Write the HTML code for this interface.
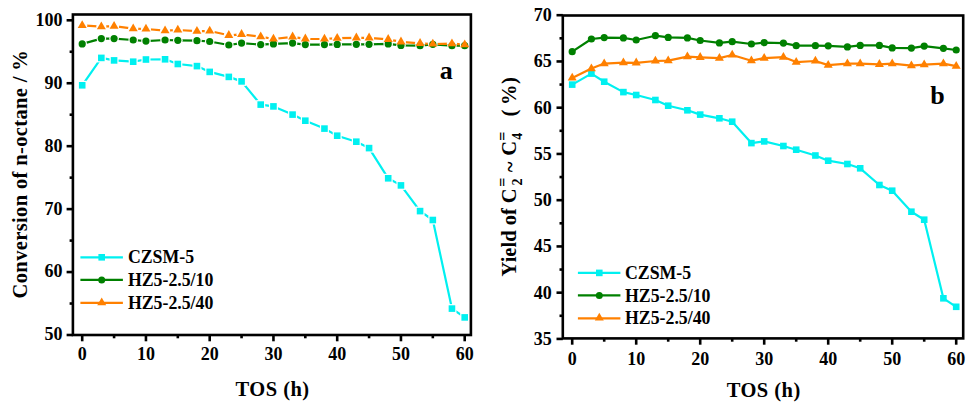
<!DOCTYPE html>
<html><head><meta charset="utf-8"><style>
html,body{margin:0;padding:0;background:#fff;}
body{width:973px;height:413px;overflow:hidden;}
svg{display:block;}
text{font-family:"Liberation Serif",serif;font-weight:bold;fill:#000;}
.tk{font-size:18px;}
.lg{font-size:17.8px;}
.ax{font-size:20.5px;}
.pl{font-size:26px;}
.sb{font-size:14px;}
.sp{font-size:16px;}
</style></head><body>
<svg width="973" height="413" viewBox="0 0 973 413">
<rect width="973" height="413" fill="#fff"/>
<rect x="72.9" y="14.5" width="398" height="320.5" fill="none" stroke="#000" stroke-width="2.6"/>
<line x1="82.2" y1="335" x2="82.2" y2="341.3" stroke="#000" stroke-width="2.6"/>
<line x1="145.95" y1="335" x2="145.95" y2="341.3" stroke="#000" stroke-width="2.6"/>
<line x1="209.7" y1="335" x2="209.7" y2="341.3" stroke="#000" stroke-width="2.6"/>
<line x1="273.45" y1="335" x2="273.45" y2="341.3" stroke="#000" stroke-width="2.6"/>
<line x1="337.2" y1="335" x2="337.2" y2="341.3" stroke="#000" stroke-width="2.6"/>
<line x1="400.95" y1="335" x2="400.95" y2="341.3" stroke="#000" stroke-width="2.6"/>
<line x1="464.7" y1="335" x2="464.7" y2="341.3" stroke="#000" stroke-width="2.6"/>
<line x1="114.08" y1="335" x2="114.08" y2="338.3" stroke="#000" stroke-width="2.6"/>
<line x1="177.82" y1="335" x2="177.82" y2="338.3" stroke="#000" stroke-width="2.6"/>
<line x1="241.57" y1="335" x2="241.57" y2="338.3" stroke="#000" stroke-width="2.6"/>
<line x1="305.32" y1="335" x2="305.32" y2="338.3" stroke="#000" stroke-width="2.6"/>
<line x1="369.07" y1="335" x2="369.07" y2="338.3" stroke="#000" stroke-width="2.6"/>
<line x1="432.82" y1="335" x2="432.82" y2="338.3" stroke="#000" stroke-width="2.6"/>
<line x1="72.9" y1="335" x2="66.6" y2="335" stroke="#000" stroke-width="2.6"/>
<line x1="72.9" y1="272.06" x2="66.6" y2="272.06" stroke="#000" stroke-width="2.6"/>
<line x1="72.9" y1="209.12" x2="66.6" y2="209.12" stroke="#000" stroke-width="2.6"/>
<line x1="72.9" y1="146.18" x2="66.6" y2="146.18" stroke="#000" stroke-width="2.6"/>
<line x1="72.9" y1="83.24" x2="66.6" y2="83.24" stroke="#000" stroke-width="2.6"/>
<line x1="72.9" y1="20.3" x2="66.6" y2="20.3" stroke="#000" stroke-width="2.6"/>
<line x1="72.9" y1="303.53" x2="69.6" y2="303.53" stroke="#000" stroke-width="2.6"/>
<line x1="72.9" y1="240.59" x2="69.6" y2="240.59" stroke="#000" stroke-width="2.6"/>
<line x1="72.9" y1="177.65" x2="69.6" y2="177.65" stroke="#000" stroke-width="2.6"/>
<line x1="72.9" y1="114.71" x2="69.6" y2="114.71" stroke="#000" stroke-width="2.6"/>
<line x1="72.9" y1="51.77" x2="69.6" y2="51.77" stroke="#000" stroke-width="2.6"/>
<rect x="562.8" y="15.5" width="400.4" height="322.9" fill="none" stroke="#000" stroke-width="2.6"/>
<line x1="572.2" y1="338.4" x2="572.2" y2="344.7" stroke="#000" stroke-width="2.6"/>
<line x1="636.2" y1="338.4" x2="636.2" y2="344.7" stroke="#000" stroke-width="2.6"/>
<line x1="700.2" y1="338.4" x2="700.2" y2="344.7" stroke="#000" stroke-width="2.6"/>
<line x1="764.2" y1="338.4" x2="764.2" y2="344.7" stroke="#000" stroke-width="2.6"/>
<line x1="828.2" y1="338.4" x2="828.2" y2="344.7" stroke="#000" stroke-width="2.6"/>
<line x1="892.2" y1="338.4" x2="892.2" y2="344.7" stroke="#000" stroke-width="2.6"/>
<line x1="956.2" y1="338.4" x2="956.2" y2="344.7" stroke="#000" stroke-width="2.6"/>
<line x1="604.2" y1="338.4" x2="604.2" y2="341.7" stroke="#000" stroke-width="2.6"/>
<line x1="668.2" y1="338.4" x2="668.2" y2="341.7" stroke="#000" stroke-width="2.6"/>
<line x1="732.2" y1="338.4" x2="732.2" y2="341.7" stroke="#000" stroke-width="2.6"/>
<line x1="796.2" y1="338.4" x2="796.2" y2="341.7" stroke="#000" stroke-width="2.6"/>
<line x1="860.2" y1="338.4" x2="860.2" y2="341.7" stroke="#000" stroke-width="2.6"/>
<line x1="924.2" y1="338.4" x2="924.2" y2="341.7" stroke="#000" stroke-width="2.6"/>
<line x1="562.8" y1="338.92" x2="556.5" y2="338.92" stroke="#000" stroke-width="2.6"/>
<line x1="562.8" y1="292.67" x2="556.5" y2="292.67" stroke="#000" stroke-width="2.6"/>
<line x1="562.8" y1="246.43" x2="556.5" y2="246.43" stroke="#000" stroke-width="2.6"/>
<line x1="562.8" y1="200.18" x2="556.5" y2="200.18" stroke="#000" stroke-width="2.6"/>
<line x1="562.8" y1="153.94" x2="556.5" y2="153.94" stroke="#000" stroke-width="2.6"/>
<line x1="562.8" y1="107.69" x2="556.5" y2="107.69" stroke="#000" stroke-width="2.6"/>
<line x1="562.8" y1="61.45" x2="556.5" y2="61.45" stroke="#000" stroke-width="2.6"/>
<line x1="562.8" y1="15.2" x2="556.5" y2="15.2" stroke="#000" stroke-width="2.6"/>
<line x1="562.8" y1="315.79" x2="559.5" y2="315.79" stroke="#000" stroke-width="2.6"/>
<line x1="562.8" y1="269.55" x2="559.5" y2="269.55" stroke="#000" stroke-width="2.6"/>
<line x1="562.8" y1="223.3" x2="559.5" y2="223.3" stroke="#000" stroke-width="2.6"/>
<line x1="562.8" y1="177.06" x2="559.5" y2="177.06" stroke="#000" stroke-width="2.6"/>
<line x1="562.8" y1="130.81" x2="559.5" y2="130.81" stroke="#000" stroke-width="2.6"/>
<line x1="562.8" y1="84.57" x2="559.5" y2="84.57" stroke="#000" stroke-width="2.6"/>
<line x1="562.8" y1="38.32" x2="559.5" y2="38.32" stroke="#000" stroke-width="2.6"/>
<text x="82.2" y="360.3" class="tk" text-anchor="middle">0</text>
<text x="572.2" y="364.5" class="tk" text-anchor="middle">0</text>
<text x="145.95" y="360.3" class="tk" text-anchor="middle">10</text>
<text x="636.2" y="364.5" class="tk" text-anchor="middle">10</text>
<text x="209.7" y="360.3" class="tk" text-anchor="middle">20</text>
<text x="700.2" y="364.5" class="tk" text-anchor="middle">20</text>
<text x="273.45" y="360.3" class="tk" text-anchor="middle">30</text>
<text x="764.2" y="364.5" class="tk" text-anchor="middle">30</text>
<text x="337.2" y="360.3" class="tk" text-anchor="middle">40</text>
<text x="828.2" y="364.5" class="tk" text-anchor="middle">40</text>
<text x="400.95" y="360.3" class="tk" text-anchor="middle">50</text>
<text x="892.2" y="364.5" class="tk" text-anchor="middle">50</text>
<text x="464.7" y="360.3" class="tk" text-anchor="middle">60</text>
<text x="956.2" y="364.5" class="tk" text-anchor="middle">60</text>
<text x="62.6" y="340.4" class="tk" text-anchor="end">50</text>
<text x="62.6" y="277.46" class="tk" text-anchor="end">60</text>
<text x="62.6" y="214.52" class="tk" text-anchor="end">70</text>
<text x="62.6" y="151.58" class="tk" text-anchor="end">80</text>
<text x="62.6" y="88.64" class="tk" text-anchor="end">90</text>
<text x="62.6" y="25.7" class="tk" text-anchor="end">100</text>
<text x="551.7" y="344.92" class="tk" text-anchor="end">35</text>
<text x="551.7" y="298.67" class="tk" text-anchor="end">40</text>
<text x="551.7" y="252.43" class="tk" text-anchor="end">45</text>
<text x="551.7" y="206.18" class="tk" text-anchor="end">50</text>
<text x="551.7" y="159.94" class="tk" text-anchor="end">55</text>
<text x="551.7" y="113.69" class="tk" text-anchor="end">60</text>
<text x="551.7" y="67.45" class="tk" text-anchor="end">65</text>
<text x="551.7" y="21.2" class="tk" text-anchor="end">70</text>
<mask id="mac" maskUnits="userSpaceOnUse" x="0" y="0" width="973" height="413"><rect width="973" height="413" fill="#fff"/><rect x="77.7" y="80.8" width="9" height="9" fill="#000"/><rect x="96.83" y="53.4" width="9" height="9" fill="#000"/><rect x="109.58" y="55.9" width="9" height="9" fill="#000"/><rect x="128.7" y="57.2" width="9" height="9" fill="#000"/><rect x="141.45" y="55" width="9" height="9" fill="#000"/><rect x="160.57" y="54.8" width="9" height="9" fill="#000"/><rect x="173.32" y="59.5" width="9" height="9" fill="#000"/><rect x="192.45" y="61.6" width="9" height="9" fill="#000"/><rect x="205.2" y="67.4" width="9" height="9" fill="#000"/><rect x="224.32" y="72.4" width="9" height="9" fill="#000"/><rect x="237.07" y="76.9" width="9" height="9" fill="#000"/><rect x="256.2" y="100.1" width="9" height="9" fill="#000"/><rect x="268.95" y="101.9" width="9" height="9" fill="#000"/><rect x="288.07" y="110.1" width="9" height="9" fill="#000"/><rect x="300.82" y="116.2" width="9" height="9" fill="#000"/><rect x="319.95" y="124.1" width="9" height="9" fill="#000"/><rect x="332.7" y="131.2" width="9" height="9" fill="#000"/><rect x="351.82" y="137.2" width="9" height="9" fill="#000"/><rect x="364.57" y="143.6" width="9" height="9" fill="#000"/><rect x="383.7" y="173.8" width="9" height="9" fill="#000"/><rect x="396.45" y="180.9" width="9" height="9" fill="#000"/><rect x="415.57" y="206.6" width="9" height="9" fill="#000"/><rect x="428.32" y="215.5" width="9" height="9" fill="#000"/><rect x="447.45" y="304.1" width="9" height="9" fill="#000"/><rect x="460.2" y="312.9" width="9" height="9" fill="#000"/></mask>
<polyline points="82.2,85.3 101.33,57.9 114.08,60.4 133.2,61.7 145.95,59.5 165.07,59.3 177.82,64 196.95,66.1 209.7,71.9 228.82,76.9 241.57,81.4 260.7,104.6 273.45,106.4 292.57,114.6 305.32,120.7 324.45,128.6 337.2,135.7 356.32,141.7 369.07,148.1 388.2,178.3 400.95,185.4 420.07,211.1 432.82,220 451.95,308.6 464.7,317.4" fill="none" stroke="#00F0F0" stroke-width="2.2" stroke-linejoin="round" mask="url(#mac)"/>
<rect x="78.9" y="82" width="6.6" height="6.6" fill="#00F0F0"/>
<rect x="98.03" y="54.6" width="6.6" height="6.6" fill="#00F0F0"/>
<rect x="110.78" y="57.1" width="6.6" height="6.6" fill="#00F0F0"/>
<rect x="129.9" y="58.4" width="6.6" height="6.6" fill="#00F0F0"/>
<rect x="142.65" y="56.2" width="6.6" height="6.6" fill="#00F0F0"/>
<rect x="161.77" y="56" width="6.6" height="6.6" fill="#00F0F0"/>
<rect x="174.52" y="60.7" width="6.6" height="6.6" fill="#00F0F0"/>
<rect x="193.65" y="62.8" width="6.6" height="6.6" fill="#00F0F0"/>
<rect x="206.4" y="68.6" width="6.6" height="6.6" fill="#00F0F0"/>
<rect x="225.52" y="73.6" width="6.6" height="6.6" fill="#00F0F0"/>
<rect x="238.27" y="78.1" width="6.6" height="6.6" fill="#00F0F0"/>
<rect x="257.4" y="101.3" width="6.6" height="6.6" fill="#00F0F0"/>
<rect x="270.15" y="103.1" width="6.6" height="6.6" fill="#00F0F0"/>
<rect x="289.27" y="111.3" width="6.6" height="6.6" fill="#00F0F0"/>
<rect x="302.02" y="117.4" width="6.6" height="6.6" fill="#00F0F0"/>
<rect x="321.15" y="125.3" width="6.6" height="6.6" fill="#00F0F0"/>
<rect x="333.9" y="132.4" width="6.6" height="6.6" fill="#00F0F0"/>
<rect x="353.02" y="138.4" width="6.6" height="6.6" fill="#00F0F0"/>
<rect x="365.77" y="144.8" width="6.6" height="6.6" fill="#00F0F0"/>
<rect x="384.9" y="175" width="6.6" height="6.6" fill="#00F0F0"/>
<rect x="397.65" y="182.1" width="6.6" height="6.6" fill="#00F0F0"/>
<rect x="416.77" y="207.8" width="6.6" height="6.6" fill="#00F0F0"/>
<rect x="429.52" y="216.7" width="6.6" height="6.6" fill="#00F0F0"/>
<rect x="448.65" y="305.3" width="6.6" height="6.6" fill="#00F0F0"/>
<rect x="461.4" y="314.1" width="6.6" height="6.6" fill="#00F0F0"/>
<mask id="mag" maskUnits="userSpaceOnUse" x="0" y="0" width="973" height="413"><rect width="973" height="413" fill="#fff"/><circle cx="82.2" cy="43.9" r="4.8" fill="#000"/><circle cx="101.33" cy="38.6" r="4.8" fill="#000"/><circle cx="114.08" cy="38.6" r="4.8" fill="#000"/><circle cx="133.2" cy="40" r="4.8" fill="#000"/><circle cx="145.95" cy="41.1" r="4.8" fill="#000"/><circle cx="165.07" cy="40" r="4.8" fill="#000"/><circle cx="177.82" cy="40.3" r="4.8" fill="#000"/><circle cx="196.95" cy="40.7" r="4.8" fill="#000"/><circle cx="209.7" cy="41.5" r="4.8" fill="#000"/><circle cx="228.82" cy="45" r="4.8" fill="#000"/><circle cx="241.57" cy="43.1" r="4.8" fill="#000"/><circle cx="260.7" cy="44.6" r="4.8" fill="#000"/><circle cx="273.45" cy="43.9" r="4.8" fill="#000"/><circle cx="292.57" cy="43.1" r="4.8" fill="#000"/><circle cx="305.32" cy="44.6" r="4.8" fill="#000"/><circle cx="324.45" cy="44.6" r="4.8" fill="#000"/><circle cx="337.2" cy="44.4" r="4.8" fill="#000"/><circle cx="356.32" cy="44.3" r="4.8" fill="#000"/><circle cx="369.07" cy="44.3" r="4.8" fill="#000"/><circle cx="388.2" cy="43.9" r="4.8" fill="#000"/><circle cx="400.95" cy="45.4" r="4.8" fill="#000"/><circle cx="420.07" cy="45.7" r="4.8" fill="#000"/><circle cx="432.82" cy="44.3" r="4.8" fill="#000"/><circle cx="451.95" cy="45.7" r="4.8" fill="#000"/><circle cx="464.7" cy="45.7" r="4.8" fill="#000"/></mask>
<polyline points="82.2,43.9 101.33,38.6 114.08,38.6 133.2,40 145.95,41.1 165.07,40 177.82,40.3 196.95,40.7 209.7,41.5 228.82,45 241.57,43.1 260.7,44.6 273.45,43.9 292.57,43.1 305.32,44.6 324.45,44.6 337.2,44.4 356.32,44.3 369.07,44.3 388.2,43.9 400.95,45.4 420.07,45.7 432.82,44.3 451.95,45.7 464.7,45.7" fill="none" stroke="#008000" stroke-width="2.2" stroke-linejoin="round" mask="url(#mag)"/>
<circle cx="82.2" cy="43.9" r="3.6" fill="#008000"/>
<circle cx="101.33" cy="38.6" r="3.6" fill="#008000"/>
<circle cx="114.08" cy="38.6" r="3.6" fill="#008000"/>
<circle cx="133.2" cy="40" r="3.6" fill="#008000"/>
<circle cx="145.95" cy="41.1" r="3.6" fill="#008000"/>
<circle cx="165.07" cy="40" r="3.6" fill="#008000"/>
<circle cx="177.82" cy="40.3" r="3.6" fill="#008000"/>
<circle cx="196.95" cy="40.7" r="3.6" fill="#008000"/>
<circle cx="209.7" cy="41.5" r="3.6" fill="#008000"/>
<circle cx="228.82" cy="45" r="3.6" fill="#008000"/>
<circle cx="241.57" cy="43.1" r="3.6" fill="#008000"/>
<circle cx="260.7" cy="44.6" r="3.6" fill="#008000"/>
<circle cx="273.45" cy="43.9" r="3.6" fill="#008000"/>
<circle cx="292.57" cy="43.1" r="3.6" fill="#008000"/>
<circle cx="305.32" cy="44.6" r="3.6" fill="#008000"/>
<circle cx="324.45" cy="44.6" r="3.6" fill="#008000"/>
<circle cx="337.2" cy="44.4" r="3.6" fill="#008000"/>
<circle cx="356.32" cy="44.3" r="3.6" fill="#008000"/>
<circle cx="369.07" cy="44.3" r="3.6" fill="#008000"/>
<circle cx="388.2" cy="43.9" r="3.6" fill="#008000"/>
<circle cx="400.95" cy="45.4" r="3.6" fill="#008000"/>
<circle cx="420.07" cy="45.7" r="3.6" fill="#008000"/>
<circle cx="432.82" cy="44.3" r="3.6" fill="#008000"/>
<circle cx="451.95" cy="45.7" r="3.6" fill="#008000"/>
<circle cx="464.7" cy="45.7" r="3.6" fill="#008000"/>
<mask id="mao" maskUnits="userSpaceOnUse" x="0" y="0" width="973" height="413"><rect width="973" height="413" fill="#fff"/><circle cx="82.2" cy="25.4" r="5.1" fill="#000"/><circle cx="101.33" cy="26.7" r="5.1" fill="#000"/><circle cx="114.08" cy="26.1" r="5.1" fill="#000"/><circle cx="133.2" cy="28.6" r="5.1" fill="#000"/><circle cx="145.95" cy="29" r="5.1" fill="#000"/><circle cx="165.07" cy="30.7" r="5.1" fill="#000"/><circle cx="177.82" cy="30" r="5.1" fill="#000"/><circle cx="196.95" cy="31.1" r="5.1" fill="#000"/><circle cx="209.7" cy="31" r="5.1" fill="#000"/><circle cx="228.82" cy="35.3" r="5.1" fill="#000"/><circle cx="241.57" cy="34.3" r="5.1" fill="#000"/><circle cx="260.7" cy="36.7" r="5.1" fill="#000"/><circle cx="273.45" cy="39" r="5.1" fill="#000"/><circle cx="292.57" cy="36.8" r="5.1" fill="#000"/><circle cx="305.32" cy="38.8" r="5.1" fill="#000"/><circle cx="324.45" cy="39" r="5.1" fill="#000"/><circle cx="337.2" cy="38.2" r="5.1" fill="#000"/><circle cx="356.32" cy="37.8" r="5.1" fill="#000"/><circle cx="369.07" cy="37.8" r="5.1" fill="#000"/><circle cx="388.2" cy="39.3" r="5.1" fill="#000"/><circle cx="400.95" cy="41.8" r="5.1" fill="#000"/><circle cx="420.07" cy="43.3" r="5.1" fill="#000"/><circle cx="432.82" cy="44" r="5.1" fill="#000"/><circle cx="451.95" cy="43.6" r="5.1" fill="#000"/><circle cx="464.7" cy="44.6" r="5.1" fill="#000"/></mask>
<polyline points="82.2,25.4 101.33,26.7 114.08,26.1 133.2,28.6 145.95,29 165.07,30.7 177.82,30 196.95,31.1 209.7,31 228.82,35.3 241.57,34.3 260.7,36.7 273.45,39 292.57,36.8 305.32,38.8 324.45,39 337.2,38.2 356.32,37.8 369.07,37.8 388.2,39.3 400.95,41.8 420.07,43.3 432.82,44 451.95,43.6 464.7,44.6" fill="none" stroke="#FF8000" stroke-width="2.2" stroke-linejoin="round" mask="url(#mao)"/>
<path d="M82.2 20.2L86.7 28L77.7 28Z" fill="#FF8000"/>
<path d="M101.33 21.5L105.83 29.3L96.82 29.3Z" fill="#FF8000"/>
<path d="M114.08 20.9L118.58 28.7L109.57 28.7Z" fill="#FF8000"/>
<path d="M133.2 23.4L137.7 31.2L128.7 31.2Z" fill="#FF8000"/>
<path d="M145.95 23.8L150.45 31.6L141.45 31.6Z" fill="#FF8000"/>
<path d="M165.07 25.5L169.58 33.3L160.57 33.3Z" fill="#FF8000"/>
<path d="M177.82 24.8L182.33 32.6L173.32 32.6Z" fill="#FF8000"/>
<path d="M196.95 25.9L201.45 33.7L192.45 33.7Z" fill="#FF8000"/>
<path d="M209.7 25.8L214.2 33.6L205.2 33.6Z" fill="#FF8000"/>
<path d="M228.82 30.1L233.33 37.9L224.32 37.9Z" fill="#FF8000"/>
<path d="M241.57 29.1L246.08 36.9L237.07 36.9Z" fill="#FF8000"/>
<path d="M260.7 31.5L265.2 39.3L256.2 39.3Z" fill="#FF8000"/>
<path d="M273.45 33.8L277.95 41.6L268.95 41.6Z" fill="#FF8000"/>
<path d="M292.57 31.6L297.08 39.4L288.07 39.4Z" fill="#FF8000"/>
<path d="M305.32 33.6L309.83 41.4L300.82 41.4Z" fill="#FF8000"/>
<path d="M324.45 33.8L328.95 41.6L319.95 41.6Z" fill="#FF8000"/>
<path d="M337.2 33L341.7 40.8L332.7 40.8Z" fill="#FF8000"/>
<path d="M356.32 32.6L360.83 40.4L351.82 40.4Z" fill="#FF8000"/>
<path d="M369.07 32.6L373.58 40.4L364.57 40.4Z" fill="#FF8000"/>
<path d="M388.2 34.1L392.7 41.9L383.7 41.9Z" fill="#FF8000"/>
<path d="M400.95 36.6L405.45 44.4L396.45 44.4Z" fill="#FF8000"/>
<path d="M420.07 38.1L424.58 45.9L415.57 45.9Z" fill="#FF8000"/>
<path d="M432.82 38.8L437.33 46.6L428.32 46.6Z" fill="#FF8000"/>
<path d="M451.95 38.4L456.45 46.2L447.45 46.2Z" fill="#FF8000"/>
<path d="M464.7 39.4L469.2 47.2L460.2 47.2Z" fill="#FF8000"/>
<polyline points="572.2,84.6 591.4,73.6 604.2,81.7 623.4,92.1 636.2,95 655.4,100 668.2,105.7 687.4,110.3 700.2,114.6 719.4,118.3 732.2,121.7 751.4,143.1 764.2,141.4 783.4,146 796.2,149.7 815.4,155.5 828.2,160.7 847.4,164 860.2,168.3 879.4,185 892.2,190.7 911.4,211.7 924.2,219.7 943.4,298.3 956.2,306.8" fill="none" stroke="#00F0F0" stroke-width="2.2" stroke-linejoin="round"/>
<rect x="568.9" y="81.3" width="6.6" height="6.6" fill="#00F0F0"/>
<rect x="588.1" y="70.3" width="6.6" height="6.6" fill="#00F0F0"/>
<rect x="600.9" y="78.4" width="6.6" height="6.6" fill="#00F0F0"/>
<rect x="620.1" y="88.8" width="6.6" height="6.6" fill="#00F0F0"/>
<rect x="632.9" y="91.7" width="6.6" height="6.6" fill="#00F0F0"/>
<rect x="652.1" y="96.7" width="6.6" height="6.6" fill="#00F0F0"/>
<rect x="664.9" y="102.4" width="6.6" height="6.6" fill="#00F0F0"/>
<rect x="684.1" y="107" width="6.6" height="6.6" fill="#00F0F0"/>
<rect x="696.9" y="111.3" width="6.6" height="6.6" fill="#00F0F0"/>
<rect x="716.1" y="115" width="6.6" height="6.6" fill="#00F0F0"/>
<rect x="728.9" y="118.4" width="6.6" height="6.6" fill="#00F0F0"/>
<rect x="748.1" y="139.8" width="6.6" height="6.6" fill="#00F0F0"/>
<rect x="760.9" y="138.1" width="6.6" height="6.6" fill="#00F0F0"/>
<rect x="780.1" y="142.7" width="6.6" height="6.6" fill="#00F0F0"/>
<rect x="792.9" y="146.4" width="6.6" height="6.6" fill="#00F0F0"/>
<rect x="812.1" y="152.2" width="6.6" height="6.6" fill="#00F0F0"/>
<rect x="824.9" y="157.4" width="6.6" height="6.6" fill="#00F0F0"/>
<rect x="844.1" y="160.7" width="6.6" height="6.6" fill="#00F0F0"/>
<rect x="856.9" y="165" width="6.6" height="6.6" fill="#00F0F0"/>
<rect x="876.1" y="181.7" width="6.6" height="6.6" fill="#00F0F0"/>
<rect x="888.9" y="187.4" width="6.6" height="6.6" fill="#00F0F0"/>
<rect x="908.1" y="208.4" width="6.6" height="6.6" fill="#00F0F0"/>
<rect x="920.9" y="216.4" width="6.6" height="6.6" fill="#00F0F0"/>
<rect x="940.1" y="295" width="6.6" height="6.6" fill="#00F0F0"/>
<rect x="952.9" y="303.5" width="6.6" height="6.6" fill="#00F0F0"/>
<polyline points="572.2,78 591.4,68.6 604.2,63.6 623.4,62.6 636.2,62.8 655.4,61 668.2,60.7 687.4,56.7 700.2,57.3 719.4,58.1 732.2,55 751.4,60.7 764.2,58.1 783.4,57.1 796.2,62.1 815.4,61 828.2,65.1 847.4,63.6 860.2,63.6 879.4,64.3 892.2,63.6 911.4,65.7 924.2,64.7 943.4,63.6 956.2,66.1" fill="none" stroke="#FF8000" stroke-width="2.2" stroke-linejoin="round"/>
<path d="M572.2 72.8L576.7 80.6L567.7 80.6Z" fill="#FF8000"/>
<path d="M591.4 63.4L595.9 71.2L586.9 71.2Z" fill="#FF8000"/>
<path d="M604.2 58.4L608.7 66.2L599.7 66.2Z" fill="#FF8000"/>
<path d="M623.4 57.4L627.9 65.2L618.9 65.2Z" fill="#FF8000"/>
<path d="M636.2 57.6L640.7 65.4L631.7 65.4Z" fill="#FF8000"/>
<path d="M655.4 55.8L659.9 63.6L650.9 63.6Z" fill="#FF8000"/>
<path d="M668.2 55.5L672.7 63.3L663.7 63.3Z" fill="#FF8000"/>
<path d="M687.4 51.5L691.9 59.3L682.9 59.3Z" fill="#FF8000"/>
<path d="M700.2 52.1L704.7 59.9L695.7 59.9Z" fill="#FF8000"/>
<path d="M719.4 52.9L723.9 60.7L714.9 60.7Z" fill="#FF8000"/>
<path d="M732.2 49.8L736.7 57.6L727.7 57.6Z" fill="#FF8000"/>
<path d="M751.4 55.5L755.9 63.3L746.9 63.3Z" fill="#FF8000"/>
<path d="M764.2 52.9L768.7 60.7L759.7 60.7Z" fill="#FF8000"/>
<path d="M783.4 51.9L787.9 59.7L778.9 59.7Z" fill="#FF8000"/>
<path d="M796.2 56.9L800.7 64.7L791.7 64.7Z" fill="#FF8000"/>
<path d="M815.4 55.8L819.9 63.6L810.9 63.6Z" fill="#FF8000"/>
<path d="M828.2 59.9L832.7 67.7L823.7 67.7Z" fill="#FF8000"/>
<path d="M847.4 58.4L851.9 66.2L842.9 66.2Z" fill="#FF8000"/>
<path d="M860.2 58.4L864.7 66.2L855.7 66.2Z" fill="#FF8000"/>
<path d="M879.4 59.1L883.9 66.9L874.9 66.9Z" fill="#FF8000"/>
<path d="M892.2 58.4L896.7 66.2L887.7 66.2Z" fill="#FF8000"/>
<path d="M911.4 60.5L915.9 68.3L906.9 68.3Z" fill="#FF8000"/>
<path d="M924.2 59.5L928.7 67.3L919.7 67.3Z" fill="#FF8000"/>
<path d="M943.4 58.4L947.9 66.2L938.9 66.2Z" fill="#FF8000"/>
<path d="M956.2 60.9L960.7 68.7L951.7 68.7Z" fill="#FF8000"/>
<polyline points="572.2,51.7 591.4,39 604.2,37.6 623.4,37.9 636.2,40 655.4,35.7 668.2,37.4 687.4,37.9 700.2,40.5 719.4,42.9 732.2,41.7 751.4,44 764.2,42.6 783.4,43.1 796.2,45.7 815.4,45.7 828.2,45.8 847.4,46.9 860.2,45.4 879.4,45.4 892.2,47.9 911.4,48.1 924.2,46.1 943.4,48.3 956.2,50" fill="none" stroke="#008000" stroke-width="2.2" stroke-linejoin="round"/>
<circle cx="572.2" cy="51.7" r="3.6" fill="#008000"/>
<circle cx="591.4" cy="39" r="3.6" fill="#008000"/>
<circle cx="604.2" cy="37.6" r="3.6" fill="#008000"/>
<circle cx="623.4" cy="37.9" r="3.6" fill="#008000"/>
<circle cx="636.2" cy="40" r="3.6" fill="#008000"/>
<circle cx="655.4" cy="35.7" r="3.6" fill="#008000"/>
<circle cx="668.2" cy="37.4" r="3.6" fill="#008000"/>
<circle cx="687.4" cy="37.9" r="3.6" fill="#008000"/>
<circle cx="700.2" cy="40.5" r="3.6" fill="#008000"/>
<circle cx="719.4" cy="42.9" r="3.6" fill="#008000"/>
<circle cx="732.2" cy="41.7" r="3.6" fill="#008000"/>
<circle cx="751.4" cy="44" r="3.6" fill="#008000"/>
<circle cx="764.2" cy="42.6" r="3.6" fill="#008000"/>
<circle cx="783.4" cy="43.1" r="3.6" fill="#008000"/>
<circle cx="796.2" cy="45.7" r="3.6" fill="#008000"/>
<circle cx="815.4" cy="45.7" r="3.6" fill="#008000"/>
<circle cx="828.2" cy="45.8" r="3.6" fill="#008000"/>
<circle cx="847.4" cy="46.9" r="3.6" fill="#008000"/>
<circle cx="860.2" cy="45.4" r="3.6" fill="#008000"/>
<circle cx="879.4" cy="45.4" r="3.6" fill="#008000"/>
<circle cx="892.2" cy="47.9" r="3.6" fill="#008000"/>
<circle cx="911.4" cy="48.1" r="3.6" fill="#008000"/>
<circle cx="924.2" cy="46.1" r="3.6" fill="#008000"/>
<circle cx="943.4" cy="48.3" r="3.6" fill="#008000"/>
<circle cx="956.2" cy="50" r="3.6" fill="#008000"/>
<line x1="80.4" y1="257.3" x2="122.9" y2="257.3" stroke="#00F0F0" stroke-width="2.2"/>
<rect x="98.4" y="254" width="6.6" height="6.6" fill="#00F0F0"/>
<text x="127.9" y="263.4" class="lg">CZSM-5</text>
<line x1="80.4" y1="279.9" x2="122.9" y2="279.9" stroke="#008000" stroke-width="2.2"/>
<circle cx="101.7" cy="279.9" r="3.5" fill="#008000"/>
<text x="127.9" y="286.3" class="lg">HZ5-2.5/10</text>
<line x1="80.4" y1="302.9" x2="122.9" y2="302.9" stroke="#FF8000" stroke-width="2.2"/>
<path d="M101.7 297.4L106.2 305.2L97.2 305.2Z" fill="#FF8000"/>
<text x="127.9" y="308.8" class="lg">HZ5-2.5/40</text>
<line x1="577.9" y1="272.9" x2="620.4" y2="272.9" stroke="#00F0F0" stroke-width="2.2"/>
<rect x="596" y="269.6" width="6.6" height="6.6" fill="#00F0F0"/>
<text x="625" y="278.5" class="lg">CZSM-5</text>
<line x1="577.9" y1="295.4" x2="620.4" y2="295.4" stroke="#008000" stroke-width="2.2"/>
<circle cx="599.3" cy="295.4" r="3.5" fill="#008000"/>
<text x="625" y="301.6" class="lg">HZ5-2.5/10</text>
<line x1="577.9" y1="318.3" x2="620.4" y2="318.3" stroke="#FF8000" stroke-width="2.2"/>
<path d="M599.3 312.8L603.8 320.6L594.8 320.6Z" fill="#FF8000"/>
<text x="625" y="324.4" class="lg">HZ5-2.5/40</text>
<text x="272.6" y="396" class="ax" text-anchor="middle" letter-spacing="0.45">TOS (h)</text>
<text x="763.7" y="396.6" class="ax" text-anchor="middle" letter-spacing="0.45">TOS (h)</text>
<text x="446.2" y="79.3" class="pl" text-anchor="middle">a</text>
<text x="937.4" y="103.8" class="pl" text-anchor="middle">b</text>
<text transform="translate(27.4,298.4) rotate(-90)" class="ax" letter-spacing="0.36">Conversion of n-octane / %</text>
<g transform="translate(515.8,276) rotate(-90)"><text x="-0.4" y="0" class="ax">Yield of C</text><text x="89.2" y="-7.6" class="sp">=</text><text x="90.6" y="6" class="sb">2</text><text x="103.8" y="1" class="ax">~</text><text x="120.3" y="0" class="ax">C</text><text x="135.2" y="-7.6" class="sp">=</text><text x="136.2" y="6" class="sb">4</text><text x="159.4" y="0" class="ax">(</text><text x="171" y="0" class="ax">%</text><text x="192" y="0" class="ax">)</text></g>
</svg>
</body></html>
